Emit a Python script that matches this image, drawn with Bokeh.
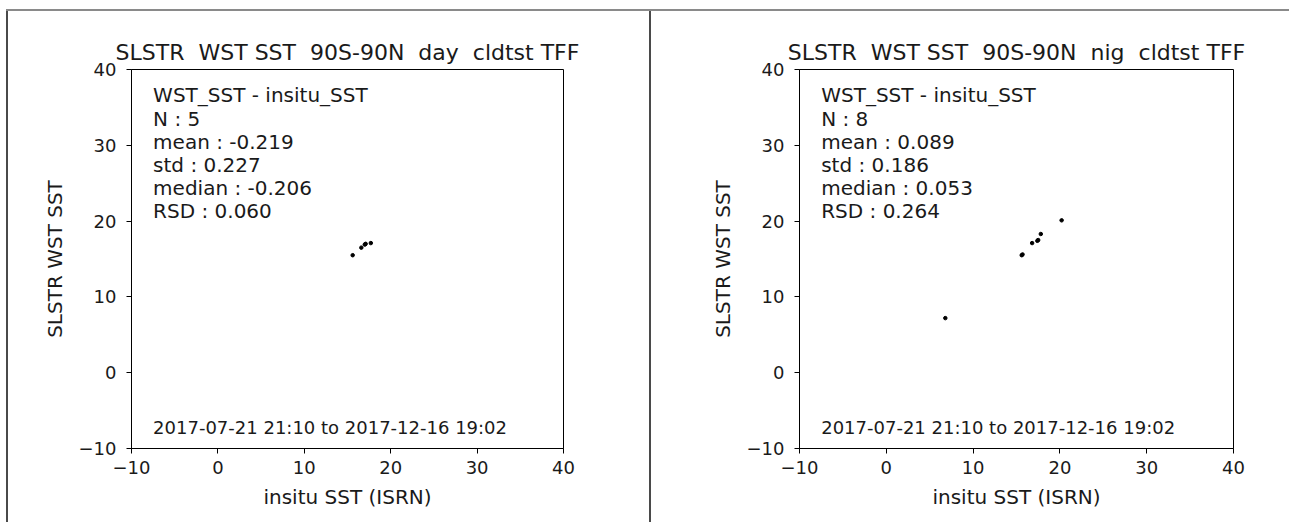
import numpy as np
from bokeh.plotting import figure
from bokeh.layouts import row, column
from bokeh.models import Div, Spacer, Range1d, FixedTicker, ColumnDataSource, Title
from bokeh.core.properties import value
from bokeh.embed import file_html
from bokeh.resources import INLINE

# ---------------- data ----------------
axis_min, axis_max = -10, 40
tick_values = [-10, 0, 10, 20, 30, 40]
tick_labels = ["\u221210", "0", "10", "20", "30", "40"]

day_insitu = [15.6, 16.6, 17.0, 17.1, 17.7]
day_wst = [15.5, 16.5, 16.9, 17.0, 17.1]

night_insitu = [6.8, 15.6, 15.7, 16.8, 17.4, 17.5, 17.8, 20.2]
night_wst = [7.2, 15.5, 15.6, 17.1, 17.4, 17.5, 18.3, 20.1]

SP2 = " \u00a0"  # double space that does not collapse
titles = [SP2.join(["SLSTR", "WST SST", "90S-90N", "day", "cldtst TFF"]),
          SP2.join(["SLSTR", "WST SST", "90S-90N", "nig", "cldtst TFF"])]
x_label = "insitu SST (ISRN)"
y_label = "SLSTR WST SST"

stats_day = ["WST_SST - insitu_SST", "N : 5", "mean : -0.219", "std : 0.227",
             "median : -0.206", "RSD : 0.060"]
stats_night = ["WST_SST - insitu_SST", "N : 8", "mean : 0.089", "std : 0.186",
               "median : 0.053", "RSD : 0.264"]
period = "2017-07-21 21:10 to 2017-12-16 19:02"

FONT = "DejaVu Sans"
TXT = "#1a1a1a"


def make_panel(xs, ys, title, stats, border_left, frame_w, border_right):
    p = figure(output_backend="svg", toolbar_location=None,
               frame_width=frame_w, frame_height=379,
               min_border_left=border_left, min_border_right=border_right,
               min_border_top=58, min_border_bottom=74,
               x_range=Range1d(axis_min, axis_max), y_range=Range1d(axis_min, axis_max),
               background_fill_color="white", border_fill_color="white")
    p.margin = 0
    # small empty title as a gap between frame and the real title
    p.title.text = " "
    p.title.text_font_size = "3px"
    p.title.standoff = 0
    main_title = Title(text=title, align="center", text_font=FONT,
                       text_font_size="22px", text_font_style="normal",
                       text_color=TXT)
    p.add_layout(main_title, "above")
    p.grid.visible = False
    p.outline_line_color = "black"
    p.outline_line_alpha = 1.0
    p.outline_line_width = 1
    overrides = {v: l for v, l in zip(tick_values, tick_labels)}
    for ax in (p.xaxis[0], p.yaxis[0]):
        ax.ticker = FixedTicker(ticks=tick_values)
        ax.major_label_overrides = overrides
        ax.minor_tick_line_color = None
        ax.major_tick_in = 0
        ax.major_tick_out = 5
        ax.major_tick_line_color = "black"
        ax.axis_line_color = "black"
        ax.major_label_text_font = FONT
        ax.major_label_text_font_size = "18px"
        ax.major_label_text_color = TXT
        ax.axis_label_text_font = FONT
        ax.axis_label_text_font_size = "20px"
        ax.axis_label_text_font_style = "normal"
        ax.axis_label_text_color = TXT
    p.xaxis.axis_label = x_label
    p.yaxis.axis_label = y_label
    p.xaxis.major_label_standoff = 7
    p.yaxis.major_label_standoff = 10
    p.xaxis.axis_label_standoff = 8
    p.yaxis.axis_label_standoff = 9

    src = ColumnDataSource(dict(x=xs, y=ys))
    p.scatter("x", "y", source=src, size=3.5, color="black")

    span = axis_max - axis_min
    tx = axis_min + 0.05 * span
    n = len(stats)
    ty = [axis_max - (0.0686 + 0.0612 * i) * span for i in range(n)]
    p.text(x=[tx] * n, y=ty, text=stats, text_font=value(FONT),
           text_font_size="20px", text_baseline="middle", text_align="left",
           text_color=TXT)
    p.text(x=[tx], y=[axis_min + 0.0554 * span], text=[period], text_font=value(FONT),
           text_font_size="18px", text_baseline="middle", text_align="left",
           text_color=TXT)
    return p


p1 = make_panel(day_insitu, day_wst, titles[0], stats_day, 123, 432, 86)
p2 = make_panel(night_insitu, night_wst, titles[1], stats_night, 148, 434, 56)

vline1 = Div(width=2, height=511, margin=0, styles={"background-color": "#4a4a4a"})
vline2 = Div(width=2, height=511, margin=0, styles={"background-color": "#4a4a4a"})
hline = Div(width=1283, height=2, margin=0, styles={"background-color": "#8a8a8a"})

inner = column(hline, row(vline1, p1, vline2, p2, spacing=0), spacing=0)
layout = column(Spacer(width=1289, height=9, margin=0),
                row(Spacer(width=6, height=513, margin=0), inner, spacing=0),
                spacing=0)

open("out.html", "w").write(file_html(layout, INLINE))
